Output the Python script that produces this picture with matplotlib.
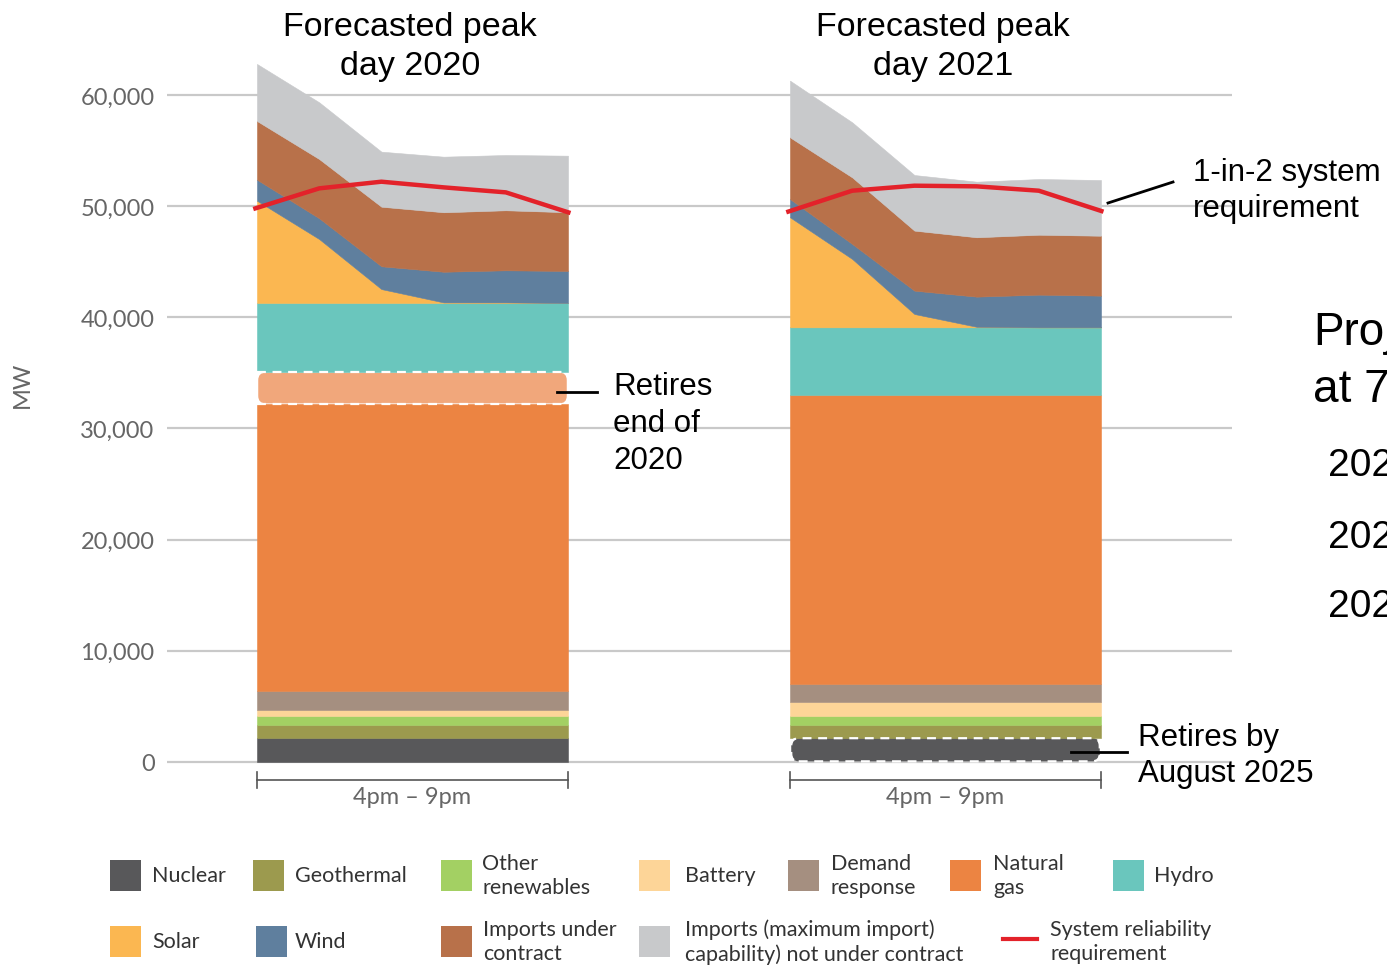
import matplotlib
matplotlib.use("Agg")
import matplotlib.pyplot as plt
from matplotlib.patches import Rectangle, FancyBboxPatch

# ---------------- data ----------------
hours = ["4pm", "5pm", "6pm", "7pm", "8pm", "9pm"]
panel_titles = ["Forecasted peak\nday 2020", "Forecasted peak\nday 2021"]
yticks = [0, 10000, 20000, 30000, 40000, 50000, 60000]

# 2020 (MW, stacked bottom -> top)
nuclear_2020 = [2200, 2200, 2200, 2200, 2200, 2200]
geothermal_2020 = [1130, 1130, 1130, 1130, 1130, 1130]
other_ren_2020 = [830, 830, 830, 830, 830, 830]
battery_2020 = [540, 540, 540, 540, 540, 540]
demand_resp_2020 = [1660, 1660, 1660, 1660, 1660, 1660]
gas_2020 = [25840, 25840, 25840, 25840, 25840, 25840]
gas_retiring_2020 = [2880, 2880, 2880, 2880, 2880, 2880]
hydro_2020 = [6210, 6210, 6210, 6210, 6210, 6210]
solar_2020 = [9200, 5750, 1250, 50, 50, 0]
wind_2020 = [1890, 1870, 2050, 2760, 2890, 2880]
imports_contract_2020 = [5280, 5330, 5360, 5350, 5400, 5280]
imports_other_2020 = [5130, 5100, 4950, 5000, 4970, 5090]
requirement_2020 = [49740, 51600, 52200, 51690, 51240, 49380]

# 2021
nuclear_2021 = [2200, 2200, 2200, 2200, 2200, 2200]   # retires by August 2025
geothermal_2021 = [1130, 1130, 1130, 1130, 1130, 1130]
other_ren_2021 = [830, 830, 830, 830, 830, 830]
battery_2021 = [1210, 1210, 1210, 1210, 1210, 1210]
demand_resp_2021 = [1650, 1650, 1650, 1650, 1650, 1650]
gas_2021 = [25980, 25980, 25980, 25980, 25980, 25980]
hydro_2021 = [6100, 6100, 6100, 6100, 6100, 6100]
solar_2021 = [9900, 6150, 1200, 50, 0, 0]
wind_2021 = [1640, 1350, 2100, 2710, 2940, 2850]
imports_contract_2021 = [5550, 5990, 5400, 5340, 5390, 5390]
imports_other_2021 = [5100, 4950, 5000, 5000, 5010, 5010]
requirement_2021 = [49450, 51390, 51840, 51780, 51390, 49500]

legend_labels = ["Nuclear", "Geothermal", "Other\nrenewables", "Battery",
                 "Demand\nresponse", "Natural\ngas", "Hydro",
                 "Solar", "Wind", "Imports under\ncontract",
                 "Imports (maximum import)\ncapability) not under contract",
                 "System reliability\nrequirement"]

# ---------------- style ----------------
C = {
    "nuclear": "#58585a", "geothermal": "#9c9a4e", "other": "#a3d063",
    "battery": "#fdd598", "dr": "#a58f80", "gas": "#ec8442",
    "gas_ret": "#f1a77b", "hydro": "#6ac6bd", "solar": "#fbb751",
    "wind": "#5f7f9e", "imp_c": "#b8714a", "imp_o": "#c8c9cb",
    "req": "#e3222a",
}
ARIAL = ["Liberation Sans", "DejaVu Sans"]
GOTH = ["Lato", "DejaVu Sans"]
GRAY = "#666666"

W, H = 1387, 970
fig = plt.figure(figsize=(W / 100, H / 100), dpi=100)

# axes placement (pixels)
ax_l, ax_r = 167, 1232
px_per_hour = 62.2
x_left0 = 257
offset2 = (790 - x_left0) / px_per_hour
xmin = (ax_l - x_left0) / px_per_hour
xmax = (ax_r - x_left0) / px_per_hour
y0_px, px_per_10k = 763, 111.17
ymin, ymax = -4000, 64000
top_px = y0_px - ymax / 10000 * px_per_10k
bot_px = y0_px - ymin / 10000 * px_per_10k
ax = fig.add_axes([ax_l / W, 1 - bot_px / H, (ax_r - ax_l) / W, (bot_px - top_px) / H])
ax.set_xlim(xmin, xmax)
ax.set_ylim(ymin, ymax)
for s in ax.spines.values():
    s.set_visible(False)
ax.set_xticks([])
ax.set_yticks(yticks)
ax.set_yticklabels([f"{v:,}" for v in yticks], fontfamily=GOTH, fontsize=17, color=GRAY)
ax.tick_params(axis="y", length=0, pad=9)
ax.grid(axis="y", color="#c9c9c9", lw=1.6)
ax.set_axisbelow(True)

y_px_per_unit = px_per_10k / 10000
aspect = (1 / y_px_per_unit) / (1 / px_per_hour)


def draw_stack(off, layers, requirement):
    xs = [off + i for i in range(len(hours))]
    base = [0.0] * len(xs)
    for vals, col, kind in layers:
        top = [b + v for b, v in zip(base, vals)]
        if kind == "normal":
            ax.fill_between(xs, base, top, color=col, lw=0.4, ec=col, zorder=2)
        else:
            h = vals[0]
            box = FancyBboxPatch((xs[0] + 0.02, base[0] + 60), xs[-1] - xs[0] - 0.04, h - 120,
                                 boxstyle="round,pad=0,rounding_size=0.12",
                                 mutation_aspect=aspect, fc=col, ec="none", zorder=2)
            ax.add_patch(box)
            if kind == "retire_lines":
                ax.plot([xs[0], xs[-1]], [base[0], base[0]], color="white", lw=1.6,
                        ls=(0, (4, 3)), zorder=3)
                ax.plot([xs[0], xs[-1]], [top[0], top[0]], color="white", lw=1.6,
                        ls=(0, (4, 3)), zorder=3)
            else:
                box2 = FancyBboxPatch((xs[0] + 0.02, base[0] + 60), xs[-1] - xs[0] - 0.04, h - 120,
                                      boxstyle="round,pad=0,rounding_size=0.12",
                                      mutation_aspect=aspect, fc="none", ec="white",
                                      lw=1.6, ls=(0, (4, 3)), zorder=3)
                ax.add_patch(box2)
        base = top
    ax.plot([xs[0] - 0.06] + xs[1:-1] + [xs[-1] + 0.04], requirement, color=C["req"], lw=3.2,
            zorder=4, solid_capstyle="butt")
    # bracket 4pm - 9pm
    yb = -1620
    ax.plot([xs[0], xs[-1]], [yb, yb], color="#555555", lw=1.2, clip_on=False)
    for xx in (xs[0], xs[-1]):
        ax.plot([xx, xx], [yb - 700, yb + 700], color="#555555", lw=1.2, clip_on=False)
    ax.text((xs[0] + xs[-1]) / 2, -3100, f"{hours[0]} – {hours[-1]}", ha="center", va="center",
            fontsize=17, color=GRAY, fontfamily=GOTH, clip_on=False)


draw_stack(0, [
    (nuclear_2020, C["nuclear"], "normal"),
    (geothermal_2020, C["geothermal"], "normal"),
    (other_ren_2020, C["other"], "normal"),
    (battery_2020, C["battery"], "normal"),
    (demand_resp_2020, C["dr"], "normal"),
    (gas_2020, C["gas"], "normal"),
    (gas_retiring_2020, C["gas_ret"], "retire_lines"),
    (hydro_2020, C["hydro"], "normal"),
    (solar_2020, C["solar"], "normal"),
    (wind_2020, C["wind"], "normal"),
    (imports_contract_2020, C["imp_c"], "normal"),
    (imports_other_2020, C["imp_o"], "normal"),
], requirement_2020)

draw_stack(offset2, [
    (nuclear_2021, C["nuclear"], "retire_box"),
    (geothermal_2021, C["geothermal"], "normal"),
    (other_ren_2021, C["other"], "normal"),
    (battery_2021, C["battery"], "normal"),
    (demand_resp_2021, C["dr"], "normal"),
    (gas_2021, C["gas"], "normal"),
    (hydro_2021, C["hydro"], "normal"),
    (solar_2021, C["solar"], "normal"),
    (wind_2021, C["wind"], "normal"),
    (imports_contract_2021, C["imp_c"], "normal"),
    (imports_other_2021, C["imp_o"], "normal"),
], requirement_2021)

# ---------------- overlay in pixel coords ----------------
ov = fig.add_axes([0, 0, 1, 1], zorder=10)
ov.set_xlim(0, W)
ov.set_ylim(H, 0)
ov.axis("off")
ov.patch.set_alpha(0)

ov.text(22, 385, "MW", rotation=90, ha="center", va="center", fontsize=17, color=GRAY,
        fontfamily=GOTH)

ov.text(410, 47, panel_titles[0], ha="center", va="center", fontsize=24.5, fontfamily=ARIAL,
        linespacing=1.3)
ov.text(943, 47, panel_titles[1], ha="center", va="center", fontsize=24.5, fontfamily=ARIAL,
        linespacing=1.3)

# annotations
ov.plot([557, 597], [393, 393], color="black", lw=2)
ov.text(613, 424, "Retires\nend of\n2020", ha="left", va="center", fontsize=22.5,
        fontfamily=ARIAL, linespacing=1.3)
ov.plot([1108, 1173], [204, 183], color="black", lw=2)
ov.text(1193, 191, "1-in-2 system\nrequirement", ha="left", va="center", fontsize=22.5,
        fontfamily=ARIAL, linespacing=1.3)
ov.plot([1071, 1127], [753, 753], color="black", lw=2)
ov.text(1138, 756, "Retires by\nAugust 2025", ha="left", va="center", fontsize=22.5,
        fontfamily=ARIAL, linespacing=1.3)

# partially visible slide text at right edge (cut off in the reference too)
ov.text(1313, 333, "Projected", ha="left", va="center", fontsize=33, fontfamily=ARIAL)
ov.text(1313, 390, "at 7pm", ha="left", va="center", fontsize=33, fontfamily=ARIAL)
for yy, t in zip([466, 538, 607], ["2020", "2021", "2022"]):
    ov.text(1328, yy, t, ha="left", va="center", fontsize=28, fontfamily=ARIAL)

# legend (manual)
leg_items = [
    (110, 876, C["nuclear"], 152), (253, 876, C["geothermal"], 295),
    (441, 876, C["other"], 482), (639, 876, C["battery"], 685),
    (788, 876, C["dr"], 831), (950, 876, C["gas"], 993),
    (1113, 876, C["hydro"], 1154),
    (110, 942, C["solar"], 152), (256, 942, C["wind"], 295),
    (441, 942, C["imp_c"], 483), (639, 942, C["imp_o"], 685),
]
for (px, py, col, tx), lab in zip(leg_items, legend_labels[:11]):
    ov.add_patch(Rectangle((px, py - 15.5), 31, 31, fc=col, ec="none"))
    ov.text(tx, py, lab, ha="left", va="center", fontsize=15.5, color="#333333",
            fontfamily=GOTH, linespacing=1.25)
ov.plot([1003, 1037], [940, 940], color=C["req"], lw=3)
ov.text(1050, 942, legend_labels[11], ha="left", va="center", fontsize=15.5, color="#333333",
        fontfamily=GOTH, linespacing=1.25)

fig.savefig("out.png", dpi=100)
